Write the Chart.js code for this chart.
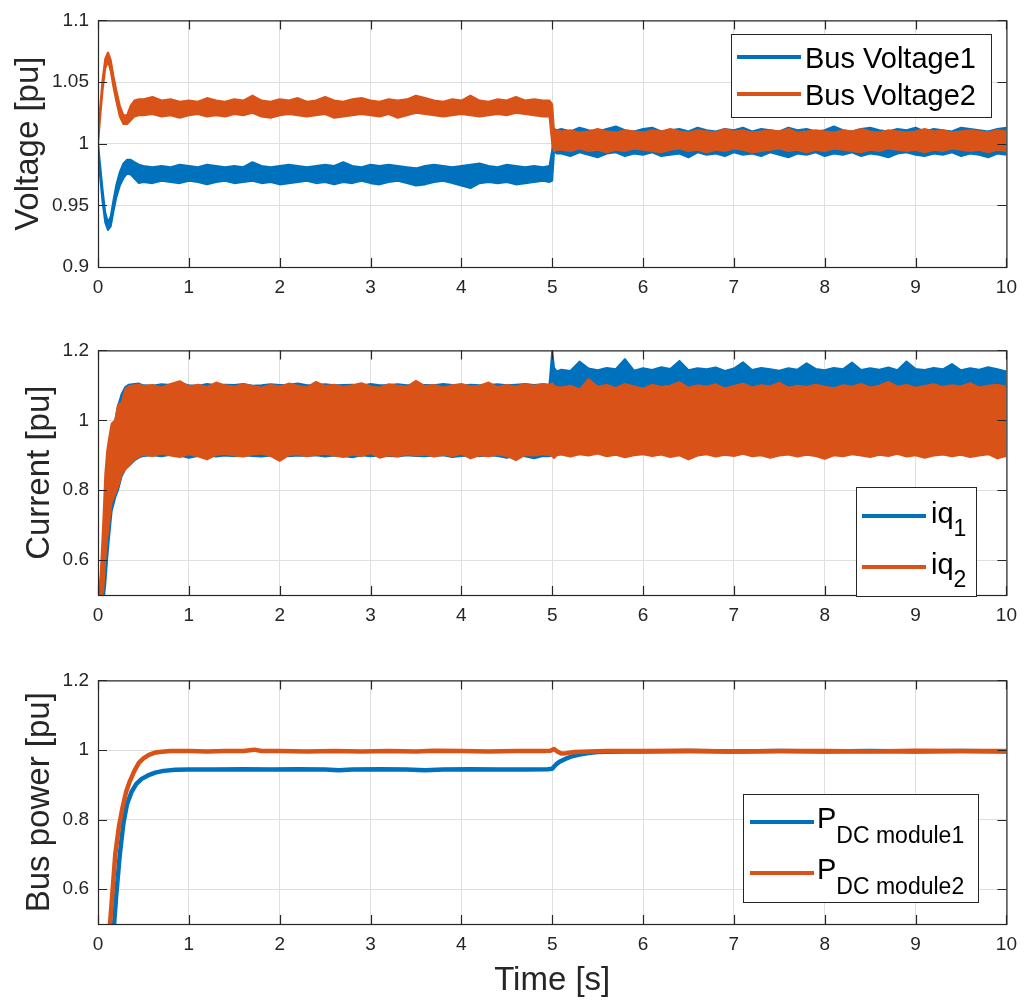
<!DOCTYPE html>
<html>
<head>
<meta charset="utf-8">
<script src="https://cdn.jsdelivr.net/npm/chart.js@4.4.0/dist/chart.umd.min.js"></script>
<style>
  html, body { margin: 0; padding: 0; background: #fff; }
  #wrap { position: relative; width: 1026px; height: 1005px; overflow: hidden; }
  canvas { position: absolute; left: 0; }
</style>
</head>
<body>
<div id="wrap">
  <canvas id="cVolt" width="1026" height="330" style="top:0px"></canvas>
  <canvas id="cCurr" width="1026" height="330" style="top:330px"></canvas>
  <canvas id="cPow" width="1026" height="345" style="top:660px"></canvas>
</div>
<script>
// tick labels
const xTicks = [0, 1, 2, 3, 4, 5, 6, 7, 8, 9, 10];
const yTicksVolt = [0.9, 0.95, 1, 1.05, 1.1];
const yTicksPu = [0.6, 0.8, 1, 1.2];

const namesVolt = ['Bus Voltage1', 'Bus Voltage2'];

// sample times [s]
const tStartV = [0, 0.02, 0.05, 0.08, 0.11, 0.14, 0.17, 0.2, 0.24, 0.28, 0.32, 0.36, 0.4, 0.45];
const tStartI = [0, 0.03, 0.06, 0.08, 0.1, 0.12, 0.15, 0.19, 0.22, 0.26, 0.3, 0.34, 0.4, 0.45];
const tSteadyA = [
  0.5, 0.6, 0.7, 0.8, 0.9, 1.0, 1.1, 1.2, 1.3, 1.4,
  1.5, 1.6, 1.7, 1.8, 1.9, 2.0, 2.1, 2.2, 2.3, 2.4,
  2.5, 2.6, 2.7, 2.8, 2.9, 3.0, 3.1, 3.2, 3.3, 3.4,
  3.5, 3.6, 3.7, 3.8, 3.9, 4.0, 4.1, 4.2, 4.3, 4.4,
  4.5, 4.6, 4.7, 4.8, 4.9];
const tJump = [4.97, 5, 5.02, 5.05];
const tSteadyB = [
  5.1, 5.2, 5.3, 5.4, 5.5, 5.6, 5.7, 5.8, 5.9, 6.0,
  6.1, 6.2, 6.3, 6.4, 6.5, 6.6, 6.7, 6.8, 6.9, 7.0,
  7.1, 7.2, 7.3, 7.4, 7.5, 7.6, 7.7, 7.8, 7.9, 8.0,
  8.1, 8.2, 8.3, 8.4, 8.5, 8.6, 8.7, 8.8, 8.9, 9.0,
  9.1, 9.2, 9.3, 9.4, 9.5, 9.6, 9.7, 9.8, 9.9, 10.0];

// bus voltage envelopes (upper / lower edge of the noisy trace) [pu]
const busV2Upper = [
  1.002, 1.026, 1.052, 1.069, 1.074, 1.068, 1.055, 1.044, 1.031, 1.023, 1.023, 1.031, 1.035, 1.036,
  1.036, 1.038, 1.035, 1.036, 1.034, 1.035, 1.034, 1.037, 1.035, 1.034,
  1.036, 1.035, 1.039, 1.035, 1.034, 1.036, 1.035, 1.037, 1.034, 1.035,
  1.038, 1.035, 1.034, 1.036, 1.037, 1.035, 1.034, 1.036, 1.035, 1.036,
  1.039, 1.037, 1.035, 1.034, 1.036, 1.035, 1.039, 1.035, 1.034, 1.036,
  1.035, 1.038, 1.035, 1.036, 1.035,
  1.035, 1.032, 1.010, 1.011,
  1.010, 1.011, 1.009, 1.010, 1.012, 1.010, 1.009, 1.011, 1.010, 1.009,
  1.011, 1.010, 1.012, 1.010, 1.009, 1.011, 1.010, 1.009, 1.012, 1.010,
  1.011, 1.009, 1.010, 1.011, 1.010, 1.012, 1.009, 1.010, 1.011, 1.010,
  1.009, 1.011, 1.010, 1.012, 1.010, 1.009, 1.011, 1.010, 1.009, 1.010,
  1.012, 1.010, 1.011, 1.009, 1.010, 1.011, 1.010, 1.009, 1.011, 1.010];
const busV2Lower = [
  0.999, 1.018, 1.043, 1.061, 1.067, 1.059, 1.046, 1.035, 1.022, 1.016, 1.016, 1.019, 1.022, 1.023,
  1.023, 1.024, 1.022, 1.023, 1.021, 1.023, 1.024, 1.022, 1.023, 1.022,
  1.024, 1.023, 1.025, 1.022, 1.021, 1.023, 1.024, 1.023, 1.022, 1.023,
  1.024, 1.021, 1.022, 1.023, 1.024, 1.023, 1.022, 1.024, 1.021, 1.023,
  1.025, 1.024, 1.023, 1.022, 1.023, 1.024, 1.023, 1.022, 1.023, 1.024,
  1.023, 1.025, 1.024, 1.023, 1.022,
  1.022, 1.000, 0.994, 0.995,
  0.995, 0.994, 0.996, 0.994, 0.995, 0.993, 0.995, 0.994, 0.996, 0.995,
  0.994, 0.993, 0.995, 0.996, 0.994, 0.995, 0.993, 0.995, 0.994, 0.996,
  0.995, 0.993, 0.994, 0.995, 0.996, 0.994, 0.995, 0.993, 0.995, 0.994,
  0.996, 0.995, 0.994, 0.993, 0.995, 0.994, 0.996, 0.995, 0.994, 0.995,
  0.993, 0.995, 0.994, 0.996, 0.995, 0.994, 0.995, 0.993, 0.995, 0.994];
const busV1Upper = [
  1.001, 0.985, 0.963, 0.944, 0.936, 0.941, 0.954, 0.966, 0.977, 0.984, 0.987, 0.987, 0.985, 0.983,
  0.982, 0.981, 0.982, 0.981, 0.983, 0.982, 0.981, 0.983, 0.982, 0.981,
  0.982, 0.981, 0.985, 0.982, 0.981, 0.982, 0.983, 0.982, 0.981, 0.982,
  0.983, 0.982, 0.985, 0.982, 0.981, 0.983, 0.982, 0.983, 0.982, 0.981,
  0.980, 0.982, 0.983, 0.982, 0.981, 0.982, 0.983, 0.984, 0.982, 0.981,
  0.983, 0.982, 0.981, 0.982, 0.981,
  0.982, 0.995, 1.012, 1.011,
  1.012, 1.010, 1.013, 1.011, 1.010, 1.012, 1.014, 1.011, 1.010, 1.012,
  1.013, 1.010, 1.011, 1.012, 1.010, 1.013, 1.011, 1.010, 1.012, 1.011,
  1.013, 1.010, 1.012, 1.011, 1.010, 1.013, 1.011, 1.012, 1.010, 1.011,
  1.014, 1.011, 1.010, 1.012, 1.013, 1.011, 1.010, 1.012, 1.011, 1.013,
  1.010, 1.012, 1.011, 1.010, 1.013, 1.012, 1.011, 1.010, 1.012, 1.013];
const busV1Lower = [
  0.998, 0.976, 0.953, 0.936, 0.930, 0.933, 0.945, 0.956, 0.966, 0.972, 0.976, 0.975, 0.972, 0.968,
  0.969, 0.968, 0.970, 0.969, 0.968, 0.970, 0.969, 0.967, 0.969, 0.970,
  0.968, 0.969, 0.970, 0.968, 0.969, 0.967, 0.968, 0.969, 0.970, 0.968,
  0.969, 0.967, 0.969, 0.968, 0.970, 0.968, 0.967, 0.969, 0.970, 0.968,
  0.966, 0.967, 0.969, 0.970, 0.968, 0.966, 0.964, 0.968, 0.969, 0.968,
  0.969, 0.967, 0.968, 0.969, 0.970,
  0.969, 0.970, 0.994, 0.992,
  0.992, 0.990, 0.993, 0.991, 0.989, 0.992, 0.993, 0.990, 0.992, 0.991,
  0.993, 0.990, 0.991, 0.992, 0.989, 0.993, 0.991, 0.992, 0.990, 0.993,
  0.991, 0.992, 0.990, 0.993, 0.991, 0.989, 0.992, 0.991, 0.993, 0.990,
  0.992, 0.991, 0.993, 0.990, 0.992, 0.991, 0.989, 0.992, 0.993, 0.991,
  0.990, 0.992, 0.991, 0.993, 0.990, 0.992, 0.991, 0.989, 0.992, 0.991];

// current envelopes [pu]
const iq2Upper = [
  0.48, 0.56, 0.72, 0.845, 0.91, 0.945, 0.99, 1.0, 1.045, 1.05, 1.088, 1.098, 1.1, 1.102,
  1.098, 1.101, 1.094, 1.104, 1.112, 1.097, 1.102, 1.095, 1.108, 1.100,
  1.096, 1.103, 1.098, 1.093, 1.101, 1.097, 1.105, 1.099, 1.094, 1.110,
  1.098, 1.102, 1.095, 1.100, 1.106, 1.097, 1.093, 1.103, 1.099, 1.096,
  1.113, 1.098, 1.101, 1.094, 1.100, 1.104, 1.097, 1.099, 1.108, 1.095,
  1.101, 1.097, 1.103, 1.099, 1.104,
  1.100, 1.106, 1.098, 1.095,
  1.094, 1.099, 1.088, 1.118, 1.096, 1.101, 1.092, 1.104, 1.097, 1.090,
  1.102, 1.095, 1.099, 1.109, 1.093, 1.100, 1.096, 1.103, 1.091, 1.098,
  1.105, 1.094, 1.100, 1.097, 1.108, 1.093, 1.099, 1.095, 1.102, 1.096,
  1.092, 1.100, 1.097, 1.104, 1.094, 1.099, 1.110, 1.096, 1.101, 1.093,
  1.098, 1.103, 1.095, 1.100, 1.097, 1.106, 1.094, 1.099, 1.102, 1.096];
const iq2Lower = [
  0.45, 0.47, 0.52, 0.6, 0.66, 0.7, 0.765, 0.79, 0.81, 0.845, 0.86, 0.872, 0.888, 0.895,
  0.902, 0.898, 0.905, 0.899, 0.895, 0.903, 0.897, 0.888, 0.901, 0.904,
  0.899, 0.896, 0.902, 0.905, 0.898, 0.884, 0.900, 0.903, 0.897, 0.901,
  0.904, 0.899, 0.895, 0.902, 0.898, 0.906, 0.893, 0.900, 0.897, 0.903,
  0.899, 0.902, 0.896, 0.901, 0.898, 0.904, 0.891, 0.900, 0.897, 0.902,
  0.898, 0.886, 0.901, 0.899, 0.903,
  0.900, 0.898, 0.892, 0.900,
  0.902, 0.896, 0.903, 0.899, 0.905, 0.897, 0.901, 0.894, 0.900, 0.903,
  0.898, 0.902, 0.895, 0.900, 0.888, 0.899, 0.903, 0.896, 0.901, 0.898,
  0.904, 0.897, 0.900, 0.893, 0.899, 0.902, 0.896, 0.901, 0.898, 0.890,
  0.900, 0.897, 0.903, 0.899, 0.895, 0.901, 0.898, 0.904, 0.896, 0.900,
  0.893, 0.899, 0.902, 0.897, 0.901, 0.895, 0.899, 0.903, 0.891, 0.898];
const iq1Upper = [
  0.44, 0.5, 0.6, 0.75, 0.86, 0.92, 0.97, 1.0, 1.04, 1.075, 1.095, 1.102, 1.104, 1.105,
  1.100, 1.099, 1.103, 1.101, 1.105, 1.100, 1.098, 1.104, 1.100, 1.102,
  1.101, 1.104, 1.099, 1.100, 1.103, 1.101, 1.102, 1.105, 1.100, 1.101,
  1.103, 1.100, 1.101, 1.102, 1.099, 1.104, 1.100, 1.101, 1.103, 1.100,
  1.102, 1.101, 1.100, 1.104, 1.101, 1.099, 1.102, 1.100, 1.101, 1.103,
  1.100, 1.102, 1.104, 1.101, 1.103,
  1.102, 1.198, 1.150, 1.140,
  1.145, 1.141, 1.168, 1.148, 1.143, 1.150, 1.146, 1.175, 1.142, 1.149,
  1.144, 1.152, 1.147, 1.170, 1.143, 1.149, 1.146, 1.151, 1.141, 1.148,
  1.166, 1.144, 1.150, 1.146, 1.142, 1.149, 1.145, 1.163, 1.147, 1.143,
  1.150, 1.146, 1.165, 1.144, 1.149, 1.145, 1.151, 1.143, 1.168, 1.147,
  1.144, 1.150, 1.146, 1.161, 1.143, 1.149, 1.145, 1.152, 1.146, 1.140];
const iq1Lower = [
  0.4, 0.42, 0.48, 0.53, 0.6, 0.66, 0.74, 0.78, 0.8, 0.84, 0.86, 0.87, 0.885, 0.893,
  0.898, 0.900, 0.897, 0.901, 0.899, 0.893, 0.898, 0.900, 0.896, 0.899,
  0.897, 0.900, 0.898, 0.896, 0.899, 0.901, 0.897, 0.899, 0.898, 0.900,
  0.896, 0.899, 0.898, 0.894, 0.900, 0.897, 0.899, 0.898, 0.896, 0.900,
  0.898, 0.897, 0.899, 0.900, 0.895, 0.898, 0.899, 0.897, 0.900, 0.898,
  0.893, 0.899, 0.897, 0.891, 0.898,
  0.897, 0.900, 0.950, 0.952,
  0.952, 0.949, 0.953, 0.950, 0.948, 0.951, 0.953, 0.949, 0.950, 0.952,
  0.948, 0.951, 0.950, 0.953, 0.949, 0.951, 0.950, 0.948, 0.952, 0.950,
  0.951, 0.949, 0.953, 0.950, 0.948, 0.952, 0.950, 0.951, 0.949, 0.953,
  0.950, 0.948, 0.951, 0.952, 0.949, 0.950, 0.953, 0.951, 0.948, 0.950,
  0.952, 0.949, 0.951, 0.950, 0.953, 0.948, 0.950, 0.952, 0.949, 0.951];

// bus power [pu]
const tP2 = [
  0.12, 0.15, 0.19, 0.23, 0.27, 0.31, 0.35, 0.4, 0.45, 0.5,
  0.56, 0.62, 0.7, 0.8, 0.9, 1.0, 1.2, 1.4, 1.6, 1.72,
  1.8, 2.0, 2.3, 2.6, 2.9, 3.2, 3.5, 3.7, 4.0, 4.3,
  4.6, 4.9, 4.98, 5.02, 5.06, 5.1, 5.15, 5.25, 5.4, 5.6,
  6.0, 6.5, 7.0, 7.5, 8.0, 8.5, 9.0, 9.5, 10];
const pDC2 = [
  0.46, 0.56, 0.70, 0.78, 0.835, 0.88, 0.91, 0.94, 0.963, 0.976,
  0.986, 0.992, 0.995, 0.997, 0.997, 0.997, 0.996, 0.997, 0.997, 1.001,
  0.997, 0.997, 0.996, 0.997, 0.996, 0.997, 0.996, 0.998, 0.997, 0.996,
  0.997, 0.997, 0.998, 1.003, 0.995, 0.990, 0.991, 0.994, 0.996, 0.997,
  0.997, 0.998, 0.996, 0.997, 0.997, 0.996, 0.998, 0.997, 0.997];
const tP1 = [
  0.16, 0.2, 0.24, 0.28, 0.32, 0.37, 0.42, 0.48, 0.55, 0.63,
  0.72, 0.85, 1.0, 1.3, 1.6, 1.9, 2.2, 2.5, 2.65, 2.8,
  3.1, 3.4, 3.6, 3.8, 4.1, 4.4, 4.7, 4.95, 5.0, 5.04,
  5.08, 5.15, 5.22, 5.3, 5.4, 5.5, 5.6, 5.8, 6.0, 6.5,
  7.0, 7.5, 8.0, 8.5, 9.0, 9.5, 10];
const pDC1 = [
  0.44, 0.58, 0.70, 0.79, 0.845, 0.88, 0.902, 0.917, 0.927, 0.935,
  0.94, 0.943, 0.944, 0.944, 0.945, 0.944, 0.945, 0.944, 0.942, 0.944,
  0.945, 0.944, 0.942, 0.944, 0.945, 0.944, 0.944, 0.945, 0.946, 0.958,
  0.966, 0.975, 0.982, 0.987, 0.991, 0.994, 0.995, 0.996, 0.996, 0.997,
  0.996, 0.997, 0.996, 0.997, 0.996, 0.997, 0.996];

const BLUE = '#0072BD';
const ORANGE = '#D95319';
const AXC = '#262626';
const GRID = '#dfdfdf';
const FONT = '"Liberation Sans", Arial, Helvetica, sans-serif';

const tV = [...tStartV, ...tSteadyA, ...tJump, ...tSteadyB];
const tI = [...tStartI, ...tSteadyA, ...tJump, ...tSteadyB];

function pts(t, v) {
  if (t.length !== v.length) console.error('length mismatch', t.length, v.length);
  return t.map((x, i) => ({ x: x, y: v[i] }));
}

// upper edge fills down to the next dataset (its lower edge)
function band(t, v, color, isUpper) {
  return {
    data: pts(t, v), borderColor: color, backgroundColor: color,
    borderWidth: 2, borderJoinStyle: 'round', pointRadius: 0, tension: 0,
    fill: isUpper ? '+1' : false, clip: 0
  };
}

function trace(t, v, color) {
  return {
    data: pts(t, v), borderColor: color, borderWidth: 4.5, borderJoinStyle: 'round',
    pointRadius: 0, tension: 0, fill: false, clip: 0
  };
}

// box, inward ticks and legend like matlab axes
const matlabFrame = {
  id: 'matlabFrame',
  afterDatasetsDraw(chart, args, opts) {
    const ctx = chart.ctx, a = chart.chartArea, sx = chart.scales.x, sy = chart.scales.y;
    ctx.save();
    ctx.strokeStyle = AXC;
    ctx.lineWidth = 1.2;
    ctx.strokeRect(a.left + 0.5, a.top + 0.5, a.right - a.left, a.bottom - a.top);
    ctx.beginPath();
    sx.ticks.forEach(tk => {
      const px = Math.round(sx.getPixelForValue(tk.value)) + 0.5;
      ctx.moveTo(px, a.bottom); ctx.lineTo(px, a.bottom - 9);
      ctx.moveTo(px, a.top); ctx.lineTo(px, a.top + 9);
    });
    sy.ticks.forEach(tk => {
      const py = Math.round(sy.getPixelForValue(tk.value)) + 0.5;
      ctx.moveTo(a.left, py); ctx.lineTo(a.left + 9, py);
      ctx.moveTo(a.right, py); ctx.lineTo(a.right - 9, py);
    });
    ctx.stroke();

    const lg = opts.legend;
    if (lg) {
      ctx.fillStyle = '#fff';
      ctx.fillRect(lg.x, lg.y, lg.w, lg.h);
      ctx.strokeStyle = AXC;
      ctx.lineWidth = 1;
      ctx.strokeRect(lg.x + 0.5, lg.y + 0.5, lg.w, lg.h);
      lg.rows.forEach(r => {
        ctx.strokeStyle = chart.data.datasets[r.ds].borderColor;
        ctx.lineWidth = 4;
        ctx.beginPath();
        ctx.moveTo(lg.x0, r.y); ctx.lineTo(lg.x1, r.y);
        ctx.stroke();
        ctx.fillStyle = '#000';
        ctx.textAlign = 'left';
        ctx.textBaseline = 'alphabetic';
        ctx.font = '29px ' + FONT;
        ctx.fillText(r.main, lg.tx, r.y + lg.mainDy);
        if (r.sub) {
          const w = ctx.measureText(r.main).width;
          ctx.font = '23px ' + FONT;
          ctx.fillText(r.sub, lg.tx + w, r.y + lg.subDy);
        }
      });
    }
    ctx.restore();
  }
};

function makeChart(id, cfg) {
  const tickFont = { family: FONT, size: 19 };
  const titleFont = { family: FONT, size: 33 };
  return new Chart(document.getElementById(id), {
    type: 'line',
    data: { datasets: cfg.datasets },
    options: {
      responsive: false, animation: false, devicePixelRatio: 1, events: [],
      layout: { padding: { left: 0, right: 18, top: cfg.top, bottom: 0 } },
      plugins: {
        legend: { display: false },
        tooltip: { enabled: false },
        matlabFrame: { legend: cfg.legend }
      },
      scales: {
        x: {
          type: 'linear', min: 0, max: 10,
          afterBuildTicks: s => { s.ticks = xTicks.map(v => ({ value: v })); },
          afterFit: s => { s.height = cfg.xh; },
          grid: { color: GRID, drawTicks: false },
          border: { display: false },
          ticks: { color: AXC, font: tickFont, padding: 9, maxRotation: 0, autoSkip: false, callback: v => String(v) },
          title: {
            display: !!cfg.xTitle, text: cfg.xTitle || '', color: AXC, font: titleFont,
            padding: { top: 0, bottom: 4 }
          }
        },
        y: {
          type: 'linear', min: cfg.ymin, max: cfg.ymax,
          afterBuildTicks: s => { s.ticks = cfg.yTicks.map(v => ({ value: v })); },
          afterFit: s => { s.width = 98; },
          grid: { color: GRID, drawTicks: false },
          border: { display: false },
          ticks: { color: AXC, font: tickFont, padding: 9, autoSkip: false, callback: v => String(v) },
          title: {
            display: true, text: cfg.yTitle, color: AXC, font: titleFont,
            padding: { top: cfg.ytPad, bottom: 0 }
          }
        }
      }
    },
    plugins: [matlabFrame]
  });
}

// 1. bus voltages
makeChart('cVolt', {
  top: 16, xh: 63, ymin: 0.9, ymax: 1.1, yTicks: yTicksVolt, yTitle: 'Voltage [pu]', ytPad: 9,
  datasets: [
    band(tV, busV2Upper, ORANGE, true),
    band(tV, busV2Lower, ORANGE, false),
    band(tV, busV1Upper, BLUE, true),
    band(tV, busV1Lower, BLUE, false)
  ],
  legend: {
    x: 731, y: 34, w: 260, h: 83, x0: 737, x1: 801, tx: 805, mainDy: 10.5, subDy: 0,
    rows: [
      { y: 57, ds: 2, main: namesVolt[0] },
      { y: 94, ds: 0, main: namesVolt[1] }
    ]
  }
});

// 2. currents
makeChart('cCurr', {
  top: 14, xh: 65, ymin: 0.5, ymax: 1.2, yTicks: yTicksPu, yTitle: 'Current [pu]', ytPad: 20,
  datasets: [
    band(tI, iq2Upper, ORANGE, true),
    band(tI, iq2Lower, ORANGE, false),
    band(tI, iq1Upper, BLUE, true),
    band(tI, iq1Lower, BLUE, false)
  ],
  legend: {
    x: 856, y: 157, w: 120, h: 109, x0: 862, x1: 926, tx: 931, mainDy: 7, subDy: 20,
    rows: [
      { y: 186, ds: 2, main: 'iq', sub: '1' },
      { y: 237, ds: 0, main: 'iq', sub: '2' }
    ]
  }
});

// 3. bus power
makeChart('cPow', {
  top: 14, xh: 81, ymin: 0.5, ymax: 1.2, yTicks: yTicksPu, yTitle: 'Bus power [pu]', ytPad: 20,
  xTitle: 'Time [s]',
  datasets: [
    trace(tP2, pDC2, ORANGE),
    trace(tP1, pDC1, BLUE)
  ],
  legend: {
    x: 743, y: 134, w: 235, h: 108, x0: 750, x1: 814, tx: 817, mainDy: 6, subDy: 21,
    rows: [
      { y: 162, ds: 1, main: 'P', sub: 'DC module1' },
      { y: 213, ds: 0, main: 'P', sub: 'DC module2' }
    ]
  }
});
</script>
</body>
</html>
